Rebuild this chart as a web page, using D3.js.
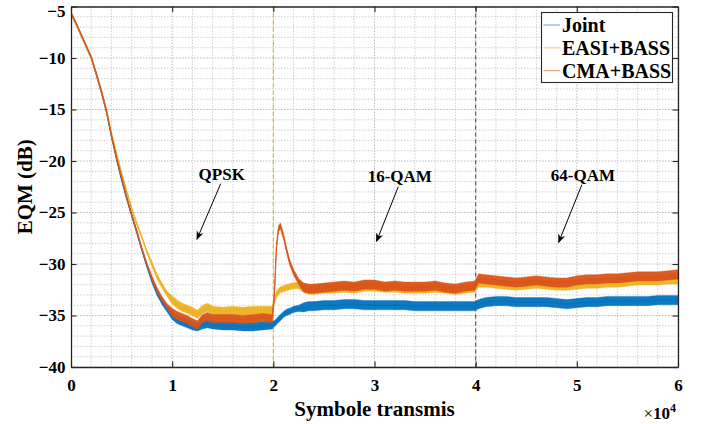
<!DOCTYPE html>
<html><head><meta charset="utf-8">
<script src="https://cdn.jsdelivr.net/npm/d3@7/dist/d3.min.js"></script>
<style>
html,body{margin:0;padding:0;background:#fff;}
svg{display:block;}
svg text{font-family:"Liberation Serif","Times New Roman",serif;}
</style></head>
<body>
<svg id="chart" width="704" height="424"></svg>
<script>
// ---------------- data (x in units of 1e4 symbols, EQM in dB) ----------------
const xs = [0,0,0.05,0.1,0.15,0.2,0.25,0.3,0.35,0.4,0.45,0.5,0.55,0.6,0.65,0.7,0.75,0.8,0.85,0.9,0.95,
  1.0,1.05,1.1,1.15,1.2,1.25,1.3,1.35,1.4,1.5,1.6,1.7,1.8,1.9,1.99,
  2.01,2.03,2.05,2.07,2.1,2.13,2.16,2.2,2.25,2.3,2.35,2.4,2.5,2.6,2.7,2.8,2.9,
  3.0,3.1,3.2,3.3,3.4,3.5,3.6,3.7,3.8,3.9,3.99,
  4.03,4.1,4.2,4.3,4.4,4.5,4.6,4.7,4.8,4.9,5.0,5.1,5.2,5.3,5.4,5.5,5.6,5.7,5.8,5.9,6.0];

const jointEQM = [-26,-5.7,-6.7,-7.8,-8.9,-10.0,-11.6,-13.3,-15.2,-17.6,-19.8,-21.8,-23.6,-25.3,-26.9,-28.6,-30.2,-31.6,-32.8,-33.7,-34.4,
  -35.0,-35.4,-35.6,-35.8,-36.0,-36.1,-35.9,-35.8,-35.9,-36.0,-36.0,-36.1,-36.1,-36.0,-35.9,
  -35.8,-35.6,-35.4,-35.2,-34.9,-34.7,-34.6,-34.4,-34.3,-34.2,-34.1,-34.1,-34.0,-34.0,-33.9,-33.9,-34.0,
  -34.0,-34.0,-34.0,-34.0,-34.1,-34.1,-34.1,-34.1,-34.1,-34.1,-34.1,
  -33.9,-33.7,-33.6,-33.6,-33.7,-33.7,-33.7,-33.7,-33.8,-33.9,-33.8,-33.7,-33.7,-33.6,-33.6,-33.6,-33.6,-33.6,-33.5,-33.5,-33.5];

const easiEQM = [-26,-5.7,-6.7,-7.8,-8.9,-10.0,-11.5,-13.2,-15.0,-17.3,-19.3,-21.2,-22.9,-24.6,-26.1,-27.4,-28.8,-30.0,-31.2,-32.1,-32.9,
  -33.5,-33.9,-34.2,-34.4,-34.6,-34.9,-34.4,-34.2,-34.5,-34.6,-34.5,-34.6,-34.5,-34.5,-34.5,
  -33.6,-33.0,-32.7,-32.5,-32.4,-32.3,-32.2,-32.1,-32.1,-32.3,-32.5,-32.5,-32.4,-32.4,-32.3,-32.4,-32.2,
  -32.2,-32.3,-32.3,-32.4,-32.4,-32.4,-32.3,-32.4,-32.5,-32.4,-32.3,
  -31.8,-31.8,-31.9,-32.0,-32.1,-32.0,-31.9,-32.0,-32.1,-32.1,-32.0,-31.9,-31.9,-31.8,-31.8,-31.7,-31.6,-31.6,-31.6,-31.5,-31.5];

const cmaEQM = [-26,-5.6,-6.6,-7.7,-8.8,-9.9,-11.5,-13.2,-15.1,-17.5,-19.7,-21.6,-23.5,-25.2,-26.8,-28.5,-30.0,-31.4,-32.5,-33.4,-34.1,
  -34.7,-35.0,-35.2,-35.4,-35.7,-35.9,-35.3,-35.1,-35.3,-35.3,-35.3,-35.4,-35.3,-35.2,-35.3,
  -33.0,-28.5,-26.6,-26.3,-27.3,-28.6,-29.8,-30.8,-31.7,-32.3,-32.4,-32.4,-32.3,-32.2,-32.1,-32.2,-32.0,
  -32.0,-32.2,-32.1,-32.2,-32.2,-32.2,-32.1,-32.3,-32.4,-32.2,-32.1,
  -31.4,-31.5,-31.6,-31.7,-31.8,-31.7,-31.6,-31.7,-31.8,-31.8,-31.6,-31.5,-31.5,-31.4,-31.4,-31.3,-31.2,-31.2,-31.2,-31.1,-31.0];

// half thickness of the noisy trace (dB)
const noiseHalf = [0,
  0.1,0.1,0.1,0.1,0.1,
  0.12,0.12,0.12,0.12,0.12,
  0.15,0.15,0.15,0.15,0.15,0.15,
  0.25,0.25,0.25,0.25,
  0.4,0.4,0.4,0.4,0.4,0.4,0.4,0.4,0.4,0.4,0.4,0.4,0.4,0.4,0.4,
  0.3,0.3,0.3,0.3,0.3,0.3,0.3,0.3,0.3,
  0.45,0.45,0.45,0.45,0.45,0.45,0.45,0.45,0.45,0.45,
  0.45,0.45,0.45,0.45,0.45,0.45,0.45,0.45,0.45,0.45,
  0.45,0.45,0.45,0.45,0.45,0.45,0.45,0.45,0.45,0.45,
  0.45,0.45,0.45,0.45,0.45,0.45,0.45,0.45,0.45,0.45];

const seriesNames = ["Joint","EASI+BASS","CMA+BASS"];
const seriesColors = ["#0072BD","#EDB120","#D95319"];
const seriesValues = [jointEQM, easiEQM, cmaEQM];

const xTicks = [0,1,2,3,4,5,6];
const yTicks = [-5,-10,-15,-20,-25,-30,-35,-40];
const xMinorGrid = d3.range(0, 6.0001, 0.2);
const yMinorGrid = d3.range(-40, -4.999, 1);

const switchLines = [{x:2, color:"#EDB120"},{x:4, color:"#7E2F8E"}];
const annotations = [
  {label:"QPSK",   tx:1.49, ty:-21.3, x1:1.48, y1:-22.2, x2:1.245, y2:-27.6},
  {label:"16-QAM", tx:3.25, ty:-21.5, x1:3.235,y1:-22.5, x2:3.02,  y2:-27.8},
  {label:"64-QAM", tx:5.06, ty:-21.4, x1:5.05, y1:-22.3, x2:4.82,  y2:-27.9}
];

// ---------------- layout ----------------
const svg = d3.select("#chart");
const L = 71, R = 678, T = 6.5, B = 367;
const x = d3.scaleLinear().domain([0,6]).range([L,R]);
const y = d3.scaleLinear().domain([-40,-5]).range([B,T]);
const axisColor = "#262626";

svg.append("defs").append("clipPath").attr("id","clip")
  .append("rect").attr("x",L).attr("y",T).attr("width",R-L).attr("height",B-T);

const marker = svg.select("defs").append("marker")
  .attr("id","arrow").attr("viewBox","0 0 10 10").attr("refX",9).attr("refY",5)
  .attr("markerWidth",9).attr("markerHeight",9).attr("orient","auto-start-reverse")
  .attr("markerUnits","userSpaceOnUse");
marker.append("path").attr("d","M0,1 L10,5 L0,9 L3,5 Z").attr("fill","#000");

svg.append("rect").attr("x",L).attr("y",T).attr("width",R-L).attr("height",B-T).attr("fill","#fff");

// grid
const grid = svg.append("g").attr("clip-path","url(#clip)");
grid.selectAll(".vg").data(xMinorGrid).join("line")
  .attr("x1",d=>x(d)).attr("x2",d=>x(d)).attr("y1",T).attr("y2",B)
  .attr("stroke",(d)=>Math.abs(d-Math.round(d))<1e-6?"#a8a8a8":"#c4c4c4")
  .attr("stroke-width",0.8).attr("stroke-dasharray","1.5,1.5");
grid.selectAll(".hg").data(yMinorGrid).join("line")
  .attr("y1",d=>y(d)).attr("y2",d=>y(d)).attr("x1",L).attr("x2",R)
  .attr("stroke",(d)=>Math.round(d)%5===0?"#a8a8a8":"#c4c4c4")
  .attr("stroke-width",0.8).attr("stroke-dasharray","1.5,1.5");

// modulation switch lines
grid.selectAll(".sw").data(switchLines).join("line")
  .attr("x1",d=>x(d.x)).attr("x2",d=>x(d.x)).attr("y1",T).attr("y2",B)
  .attr("stroke",d=>d.color).attr("stroke-width",1.1).attr("stroke-dasharray","4,3");

// data
const plot = svg.append("g").attr("clip-path","url(#clip)");
seriesValues.forEach((vals,k)=>{
  const pts = xs.map((xv,i)=>({x:xv, v:vals[i], h:noiseHalf[i]}));
  const band = d3.area().x(d=>x(d.x)).y0(d=>y(d.v-d.h)).y1(d=>y(d.v+d.h));
  const line = d3.line().x(d=>x(d.x)).y(d=>y(d.v));
  plot.append("path").datum(pts).attr("d",band)
    .attr("fill",seriesColors[k]).attr("fill-opacity",0.95).attr("stroke",seriesColors[k])
    .attr("stroke-width",0.6).attr("stroke-opacity",0.6);
  plot.append("path").datum(pts).attr("d",line)
    .attr("fill","none").attr("stroke",seriesColors[k]).attr("stroke-width",1.2).attr("stroke-opacity",0.85);
});

// axes (ticks inward, box)
const fmt = d=>String(d).replace("-","\u2212");
const gB = svg.append("g").attr("transform",`translate(0,${B})`)
  .call(d3.axisBottom(x).tickValues(xTicks).tickSizeInner(-5.5).tickSizeOuter(0).tickPadding(12).tickFormat(d3.format("d")));
const gT = svg.append("g").attr("transform",`translate(0,${T})`)
  .call(d3.axisTop(x).tickValues(xTicks).tickSizeInner(-5.5).tickSizeOuter(0).tickFormat(""));
const gL = svg.append("g").attr("transform",`translate(${L},0)`)
  .call(d3.axisLeft(y).tickValues(yTicks).tickSizeInner(-5.5).tickSizeOuter(0).tickPadding(5.5).tickFormat(fmt));
const gR = svg.append("g").attr("transform",`translate(${R},0)`)
  .call(d3.axisRight(y).tickValues(yTicks).tickSizeInner(-5.5).tickSizeOuter(0).tickFormat(""));
[gB,gT,gL,gR].forEach(g=>{
  g.attr("font-family",null);
  g.select(".domain").attr("stroke",axisColor).attr("stroke-width",1.3);
  g.selectAll(".tick line").attr("stroke",axisColor).attr("stroke-width",1.1);
  g.selectAll(".tick text").attr("fill","#000").attr("font-weight","bold").attr("font-size",17);
});
// top label sits slightly lower so it stays inside the figure, as in the reference
gL.selectAll(".tick text").filter(d=>d===-5).attr("dy","0.6em");

// exponent label
const ex = svg.append("text").attr("x",670).attr("y",419).attr("text-anchor","end")
  .attr("font-size",17).attr("fill","#000");
ex.append("tspan").text("\u00d7");
ex.append("tspan").attr("font-weight","bold").text("10");
svg.append("text").attr("x",670).attr("y",412).attr("font-size",12).attr("font-weight","bold").text("4");

// axis titles
svg.append("text").attr("x",(L+R)/2).attr("y",416).attr("text-anchor","middle")
  .attr("font-size",21).attr("font-weight","bold").text("Symbole transmis");
svg.append("text").attr("transform",`translate(32,${(T+B)/2}) rotate(-90)`).attr("text-anchor","middle")
  .attr("font-size",21).attr("font-weight","bold").text("EQM (dB)");

// annotations
const ann = svg.append("g");
annotations.forEach(a=>{
  ann.append("text").attr("x",x(a.tx)).attr("y",y(a.ty)).attr("dy","0.35em").attr("text-anchor","middle")
    .attr("font-size",17).attr("font-weight","bold").text(a.label);
  ann.append("line").attr("x1",x(a.x1)).attr("y1",y(a.y1)).attr("x2",x(a.x2)).attr("y2",y(a.y2))
    .attr("stroke","#000").attr("stroke-width",1).attr("marker-end","url(#arrow)");
});

// legend
const lg = svg.append("g");
lg.append("rect").attr("x",541.5).attr("y",12.5).attr("width",131).attr("height",70)
  .attr("fill","#fff").attr("stroke",axisColor).attr("stroke-width",1.1);
seriesNames.forEach((n,k)=>{
  const yy = 25 + k*22.8;
  lg.append("line").attr("x1",543.5).attr("x2",560).attr("y1",yy).attr("y2",yy)
    .attr("stroke",seriesColors[k]).attr("stroke-opacity",0.5).attr("stroke-width",1.3);
  lg.append("text").attr("x",562).attr("y",yy).attr("dy","0.35em")
    .attr("font-size",20).attr("font-weight","bold").text(n);
});
</script>
</body></html>
